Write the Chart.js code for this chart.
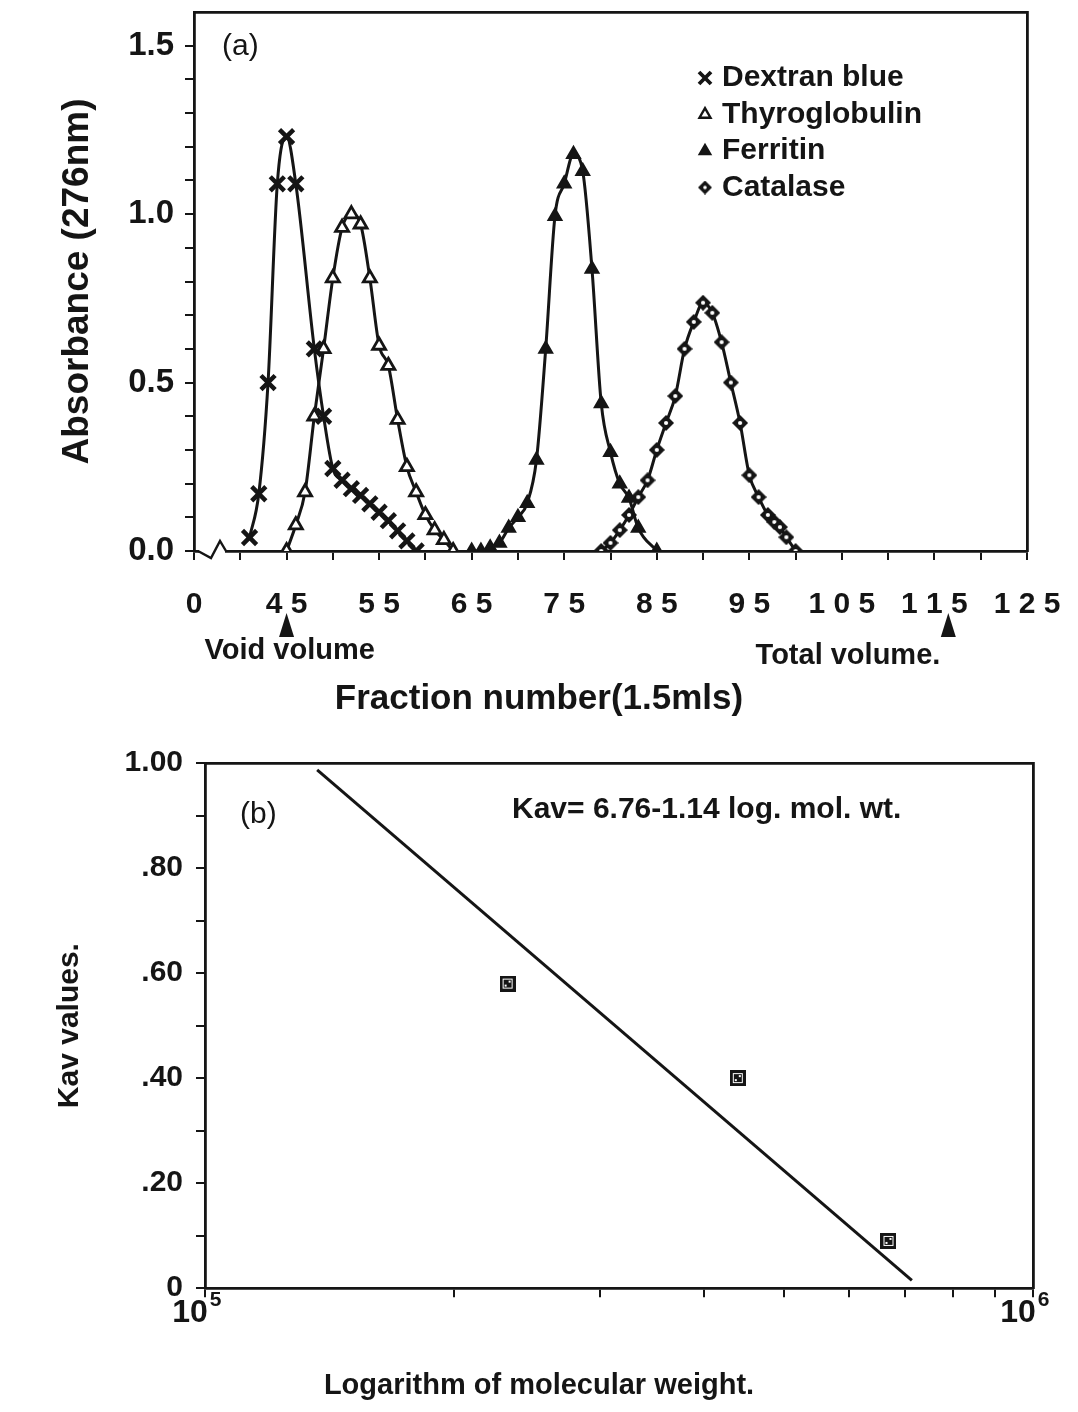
<!DOCTYPE html>
<html>
<head>
<meta charset="utf-8">
<script src="https://cdn.jsdelivr.net/npm/chart.js@4.4.1/dist/chart.umd.min.js"></script>
<style>
  html, body { margin: 0; padding: 0; background: #ffffff; }
  #wrap { position: relative; width: 1078px; height: 1412px; background: #ffffff; }
  #chartA { position: absolute; left: 0; top: 0; }
  #chartB { position: absolute; left: 0; top: 740px; }
</style>
</head>
<body>
<div id="wrap">
  <canvas id="chartA" width="1078" height="730"></canvas>
  <canvas id="chartB" width="1078" height="672"></canvas>
</div>
<script>
// ================= Panel (a) data =================
const seriesNames = ['Dextran blue', 'Thyroglobulin', 'Ferritin', 'Catalase'];

const dextranFraction = [41, 42, 43, 44, 45, 46, 48, 49, 50, 51, 52, 53, 54, 55, 56, 57, 58, 59];
const dextranAbs      = [0.04, 0.17, 0.50, 1.09, 1.23, 1.09, 0.60, 0.40, 0.245, 0.21, 0.185, 0.165, 0.14, 0.115, 0.09, 0.06, 0.03, 0.0];

const thyroFraction = [45, 46, 47, 48, 49, 50, 51, 52, 53, 54, 55, 56, 57, 58, 59, 60, 61, 62, 63];
const thyroAbs      = [0.0, 0.077, 0.175, 0.40, 0.60, 0.81, 0.96, 1.00, 0.97, 0.81, 0.61, 0.55, 0.39, 0.25, 0.175, 0.107, 0.062, 0.033, 0.0];

const ferritinFraction = [65, 66, 67, 68, 69, 70, 71, 72, 73, 74, 75, 76, 77, 78, 79, 80, 81, 82, 83, 85];
const ferritinAbs      = [0.0, 0.0, 0.01, 0.024, 0.068, 0.10, 0.142, 0.27, 0.60, 0.994, 1.09, 1.178, 1.127, 0.837, 0.438, 0.293, 0.20, 0.157, 0.068, 0.0];

const catalaseFraction = [79, 80, 81, 82, 83, 84, 85, 86, 87, 88, 89, 90, 91, 92, 93, 94, 95, 96, 97, 97.7, 98.3, 99, 100];
const catalaseAbs      = [0.0, 0.024, 0.062, 0.107, 0.16, 0.21, 0.30, 0.38, 0.46, 0.60, 0.68, 0.737, 0.707, 0.62, 0.50, 0.38, 0.225, 0.16, 0.107, 0.086, 0.071, 0.041, 0.0];

const fractionTickValues = [35, 40, 45, 50, 55, 60, 65, 70, 75, 80, 85, 90, 95, 100, 105, 110, 115, 120, 125];
const fractionTickLabels = ['0', '', '4 5', '', '5 5', '', '6 5', '', '7 5', '', '8 5', '', '9 5', '', '1 0 5', '', '1 1 5', '', '1 2 5'];
const absorbanceTickValues = [0, 0.1, 0.2, 0.3, 0.4, 0.5, 0.6, 0.7, 0.8, 0.9, 1.0, 1.1, 1.2, 1.3, 1.4, 1.5, 1.6];
const absorbanceTickLabels = ['0.0', '', '', '', '', '0.5', '', '', '', '', '1.0', '', '', '', '', '1.5', null];

const voidVolumeFraction = 45;
const totalVolumeFraction = 116.5;

// ================= Panel (b) data =================
const standardNames = ['Catalase', 'Ferritin', 'Thyroglobulin'];
const standardMolWeight = [232000, 440000, 669000];
const standardKav = [0.58, 0.40, 0.09];

const fitLineMolWeight = [136600, 714000];
const fitLineKav = [0.987, 0.015];

const molWeightTickValues = [100000, 200000, 300000, 400000, 500000, 600000, 700000, 800000, 900000, 1000000];
const molWeightTickBase     = ['10', '', '', '', '', '', '', '', '', '10'];
const molWeightTickExponent = ['5', '', '', '', '', '', '', '', '', '6'];
const kavTickValues = [0, 0.1, 0.2, 0.3, 0.4, 0.5, 0.6, 0.7, 0.8, 0.9, 1.0];
const kavTickLabels = ['0', '', '.20', '', '.40', '', '.60', '', '.80', '', '1.00'];

// ================= Styling =================
const FONT = "'Liberation Sans', Arial, Helvetica, sans-serif";
const INK = '#151515';

// square marker of panel (b): dark square with a faint inner outline and light specks
function makeSquareMarker() {
  const c = document.createElement('canvas');
  c.width = 16; c.height = 16;
  const g = c.getContext('2d');
  g.fillStyle = INK; g.fillRect(0, 0, 16, 16);
  g.strokeStyle = '#ffffff'; g.lineWidth = 1;
  g.strokeRect(3.5, 3.5, 9, 9);
  g.fillStyle = INK; g.fillRect(5, 5, 6, 6);
  g.fillStyle = '#ffffff';
  g.fillRect(9, 5, 2, 2);
  g.fillRect(5, 9, 2, 2);
  return c;
}
// diamond marker of catalase: dark diamond with a small light centre
function makeDiamondMarker(size) {
  const c = document.createElement('canvas');
  c.width = size; c.height = size;
  const g = c.getContext('2d');
  const h = size / 2;
  g.fillStyle = INK;
  g.beginPath();
  g.moveTo(h, 0); g.lineTo(size, h); g.lineTo(h, size); g.lineTo(0, h);
  g.closePath(); g.fill();
  g.fillStyle = '#ffffff';
  g.beginPath(); g.arc(h, h, size * 0.13, 0, Math.PI * 2); g.fill();
  return c;
}

const markerStyles = [
  { pointStyle: 'crossRot', radius: 10, borderWidth: 4.5, fill: INK },
  { pointStyle: 'triangle', radius: 7.5, borderWidth: 2.8, fill: '#ffffff' },
  { pointStyle: 'triangle', radius: 7.5, borderWidth: 2, fill: INK },
  { pointStyle: makeDiamondMarker(16), radius: 8, borderWidth: 0, fill: INK }
];
const legendDiamond = makeDiamondMarker(14);

function zip(xs, ys) { return xs.map((x, i) => ({ x: x, y: ys[i] })); }

function lineSeries(label, xs, ys, st) {
  return {
    label: label,
    data: zip(xs, ys),
    borderColor: INK,
    borderWidth: 3,
    cubicInterpolationMode: 'monotone',
    fill: false,
    pointStyle: st.pointStyle,
    pointRadius: st.radius,
    pointBorderWidth: st.borderWidth,
    pointBackgroundColor: st.fill,
    pointBorderColor: INK
  };
}

function fixedTicks(values) {
  return function (scale) { scale.ticks = values.map(v => ({ value: v })); };
}

function frameScale(axisType, pos, min, max, size) {
  return {
    type: axisType, position: pos, min: min, max: max, display: true,
    afterFit: s => { if (pos === 'top' || pos === 'bottom') s.height = size; else s.width = size; },
    ticks: { display: false },
    grid: { display: false },
    border: { display: true, color: INK, width: 2.8 }
  };
}

// ================= Panel (a) plugin =================
const panelAPlugin = {
  id: 'panelADecor',
  afterDraw(chart) {
    const ctx = chart.ctx;
    const a = chart.chartArea;
    const xs = chart.scales.x;
    ctx.save();

    // axis break zig-zag near origin
    const bx = a.left + 4, by = a.bottom;
    ctx.fillStyle = '#ffffff';
    ctx.fillRect(bx + 1, by - 2, 26, 4);
    ctx.strokeStyle = INK; ctx.lineWidth = 2.4; ctx.lineJoin = 'miter';
    ctx.beginPath();
    ctx.moveTo(bx, by);
    ctx.lineTo(bx + 13, by + 7);
    ctx.lineTo(bx + 22, by - 10);
    ctx.lineTo(bx + 28, by);
    ctx.stroke();

    // panel label
    ctx.fillStyle = INK;
    ctx.font = '30px ' + FONT;
    ctx.textBaseline = 'middle';
    ctx.textAlign = 'left';
    ctx.fillText('(a)', a.left + 28, 47);

    // legend
    const lx = 705, ly0 = 78, dy = 36.5;
    chart.data.datasets.forEach((ds, i) => {
      const y = ly0 + i * dy;
      const bw = Math.max(2, ds.pointBorderWidth * 0.85);
      ctx.fillStyle = ds.pointBackgroundColor;
      ctx.strokeStyle = INK;
      ctx.lineWidth = bw;
      const isImg = typeof ds.pointStyle !== 'string';
      Chart.helpers.drawPoint(ctx, {
        pointStyle: isImg ? legendDiamond : ds.pointStyle,
        radius: ds.pointRadius * 0.85,
        borderWidth: isImg ? 0 : bw,
        rotation: 0
      }, lx, y);
      ctx.fillStyle = INK;
      ctx.font = 'bold 30px ' + FONT;
      ctx.textAlign = 'left';
      ctx.textBaseline = 'middle';
      ctx.fillText(ds.label, 722, y);
    });

    // void / total volume arrows
    function arrow(px) {
      ctx.fillStyle = INK;
      ctx.beginPath();
      ctx.moveTo(px, 613);
      ctx.lineTo(px + 7.5, 637);
      ctx.lineTo(px - 7.5, 637);
      ctx.closePath();
      ctx.fill();
    }
    const vx = xs.getPixelForValue(voidVolumeFraction);
    const tx = xs.getPixelForValue(totalVolumeFraction);
    arrow(vx); arrow(tx);
    ctx.fillStyle = INK;
    ctx.font = 'bold 29px ' + FONT;
    ctx.textBaseline = 'middle';
    ctx.textAlign = 'left';
    ctx.fillText('Void volume', vx - 82, 651);
    ctx.textAlign = 'right';
    ctx.fillText('Total volume.', tx - 8, 656);
    ctx.restore();
  }
};

const chartA = new Chart(document.getElementById('chartA'), {
  type: 'line',
  data: {
    datasets: [
      lineSeries(seriesNames[0], dextranFraction, dextranAbs, markerStyles[0]),
      lineSeries(seriesNames[1], thyroFraction, thyroAbs, markerStyles[1]),
      lineSeries(seriesNames[2], ferritinFraction, ferritinAbs, markerStyles[2]),
      lineSeries(seriesNames[3], catalaseFraction, catalaseAbs, markerStyles[3])
    ]
  },
  options: {
    responsive: false,
    devicePixelRatio: 1,
    animation: false,
    events: [],
    layout: { padding: 0, autoPadding: false },
    plugins: {
      legend: { display: false },
      tooltip: { enabled: false },
      title: {
        display: true, position: 'bottom', text: 'Fraction number(1.5mls)', color: INK,
        font: { family: FONT, size: 35, weight: 'bold' }, padding: { top: 0, bottom: 10 }
      }
    },
    scales: {
      x: {
        type: 'linear', position: 'bottom', min: 35, max: 125,
        afterBuildTicks: fixedTicks(fractionTickValues),
        afterFit: s => { s.height = 127; },
        ticks: {
          autoSkip: false, maxRotation: 0, padding: 0, color: INK,
          font: { family: FONT, size: 30, weight: 'bold', lineHeight: 3.0 },
          callback: (v, i) => fractionTickLabels[i]
        },
        grid: { drawOnChartArea: false, drawTicks: true, tickLength: 9, color: INK, lineWidth: 2 },
        border: { display: true, color: INK, width: 2.8 }
      },
      x2: frameScale('linear', 'top', 35, 125, 12),
      y: {
        type: 'linear', position: 'left', min: 0, max: 1.6,
        afterBuildTicks: fixedTicks(absorbanceTickValues),
        afterFit: s => { s.width = 194; },
        ticks: {
          autoSkip: false, padding: 11, color: INK,
          font: { family: FONT, size: 33, weight: 'bold', lineHeight: 0.02 },
          callback: (v, i) => absorbanceTickLabels[i]
        },
        grid: { drawOnChartArea: false, drawTicks: true, tickLength: 9, color: INK, lineWidth: 2 },
        border: { display: true, color: INK, width: 2.8 },
        title: {
          display: true, text: 'Absorbance (276nm)', color: INK,
          font: { family: FONT, size: 37, weight: 'bold' }, padding: { top: 56, bottom: 0 }
        }
      },
      y2: frameScale('linear', 'right', 0, 1.6, 51)
    }
  },
  plugins: [panelAPlugin]
});

// ================= Panel (b) plugin =================
const B_TICK_FONT = 32;
const B_LABEL_SHIFT = -15;
const panelBPlugin = {
  id: 'panelBDecor',
  afterDraw(chart) {
    const ctx = chart.ctx;
    const a = chart.chartArea;
    const xs = chart.scales.x;
    ctx.save();
    ctx.fillStyle = INK;
    ctx.textBaseline = 'middle';
    ctx.textAlign = 'left';
    ctx.font = '30px ' + FONT;
    ctx.fillText('(b)', a.left + 35, 75);
    ctx.font = 'bold 30px ' + FONT;
    ctx.fillText('Kav= 6.76-1.14 log. mol. wt.', 512, 70);

    // exponents of the decade labels
    const labelMid = xs.top + 9 + B_TICK_FONT / 2;
    molWeightTickValues.forEach((v, i) => {
      const e = molWeightTickExponent[i];
      if (!e) return;
      ctx.font = 'bold ' + B_TICK_FONT + 'px ' + FONT;
      const w = ctx.measureText(molWeightTickBase[i]).width;
      const px = xs.getPixelForValue(v) + B_LABEL_SHIFT + w / 2 + 2;
      ctx.font = 'bold 21px ' + FONT;
      ctx.textAlign = 'left';
      ctx.fillText(e, px, labelMid - 13);
    });
    ctx.restore();
  }
};

const chartB = new Chart(document.getElementById('chartB'), {
  type: 'scatter',
  data: {
    datasets: [
      {
        label: 'Kav = 6.76 - 1.14 log. mol. wt.',
        data: zip(fitLineMolWeight, fitLineKav),
        showLine: true,
        borderColor: INK,
        borderWidth: 3,
        pointRadius: 0
      },
      {
        label: 'Standards',
        data: zip(standardMolWeight, standardKav),
        showLine: false,
        pointStyle: makeSquareMarker(),
        pointRadius: 8
      }
    ]
  },
  options: {
    responsive: false,
    devicePixelRatio: 1,
    animation: false,
    events: [],
    layout: { padding: 0, autoPadding: false },
    plugins: {
      legend: { display: false },
      tooltip: { enabled: false },
      title: {
        display: true, position: 'bottom', text: 'Logarithm of molecular weight.', color: INK,
        font: { family: FONT, size: 29, weight: 'bold' }, padding: { top: 0, bottom: 9 }
      }
    },
    scales: {
      x: {
        type: 'logarithmic', position: 'bottom', min: 100000, max: 1000000,
        afterBuildTicks: fixedTicks(molWeightTickValues),
        afterFit: s => { s.height = 80; },
        ticks: {
          autoSkip: false, maxRotation: 0, padding: 0, labelOffset: B_LABEL_SHIFT, color: INK,
          font: { family: FONT, size: B_TICK_FONT, weight: 'bold', lineHeight: 1.0 },
          callback: (v, i) => molWeightTickBase[i]
        },
        grid: { drawOnChartArea: false, drawTicks: true, tickLength: 9, color: INK, lineWidth: 2 },
        border: { display: true, color: INK, width: 2.8 }
      },
      x2: frameScale('linear', 'top', 0, 1, 23),
      y: {
        type: 'linear', position: 'left', min: 0, max: 1,
        afterBuildTicks: fixedTicks(kavTickValues),
        afterFit: s => { s.width = 205; },
        ticks: {
          autoSkip: false, padding: 13, color: INK,
          font: { family: FONT, size: 30, weight: 'bold', lineHeight: 0.5 },
          callback: (v, i) => kavTickLabels[i]
        },
        grid: { drawOnChartArea: false, drawTicks: true, tickLength: 9, color: INK, lineWidth: 2 },
        border: { display: true, color: INK, width: 2.8 },
        title: {
          display: true, text: 'Kav values.', color: INK,
          font: { family: FONT, size: 30, weight: 'bold' }, padding: { top: 52, bottom: 0 }
        }
      },
      y2: frameScale('linear', 'right', 0, 1, 45)
    }
  },
  plugins: [panelBPlugin]
});
</script>
</body>
</html>
